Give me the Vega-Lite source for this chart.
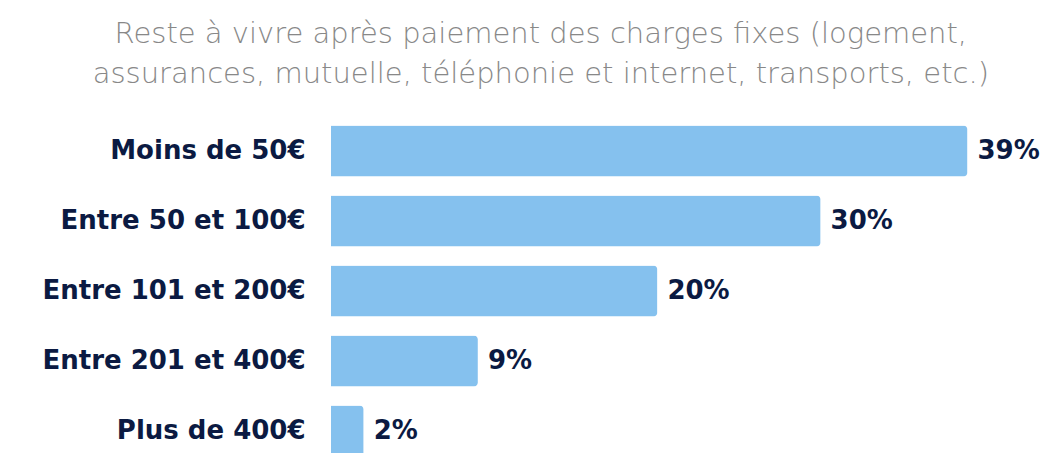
{
  "$schema": "https://vega.github.io/schema/vega-lite/v6.json",
  "width": 705,
  "height": {"step": 70},
  "padding": {"left": 41, "top": 20, "right": 5, "bottom": 5},
  "background": "white",
  "title": {
    "text": ["Reste à vivre après paiement des charges fixes (logement,", "assurances, mutuelle, téléphonie et internet, transports, etc.)"],
    "font": "DejaVu Sans",
    "fontSize": 29,
    "fontWeight": 200,
    "color": "#888888",
    "lineHeight": 40,
    "offset": 27,
    "anchor": "middle",
    "frame": "bounds"
  },
  "data": {
    "values": [
      {"categorie": "Moins de 50€", "part": 0.39},
      {"categorie": "Entre 50 et 100€", "part": 0.30},
      {"categorie": "Entre 101 et 200€", "part": 0.20},
      {"categorie": "Entre 201 et 400€", "part": 0.09},
      {"categorie": "Plus de 400€", "part": 0.02}
    ]
  },
  "encoding": {
    "y": {
      "field": "categorie",
      "type": "nominal",
      "sort": null,
      "scale": {"paddingInner": 0.27, "paddingOuter": 0.135},
      "axis": {
        "title": null,
        "domain": false,
        "ticks": false,
        "labelFont": "DejaVu Sans",
        "labelFontSize": 26,
        "labelFontWeight": "bold",
        "labelColor": "#0b1a42",
        "labelPadding": 26,
        "labelLimit": 400
      }
    },
    "x": {
      "field": "part",
      "type": "quantitative",
      "scale": {"domain": [0, 0.432]},
      "axis": null
    }
  },
  "layer": [
    {
      "mark": {"type": "bar", "color": "#85c1ee", "cornerRadiusEnd": 4}
    },
    {
      "mark": {
        "type": "text",
        "align": "left",
        "baseline": "middle",
        "dx": 10,
        "font": "DejaVu Sans",
        "fontSize": 26,
        "fontWeight": "bold",
        "color": "#0b1a42"
      },
      "encoding": {
        "text": {"field": "part", "type": "quantitative", "format": ".0%"}
      }
    }
  ],
  "config": {"view": {"stroke": null}}
}
